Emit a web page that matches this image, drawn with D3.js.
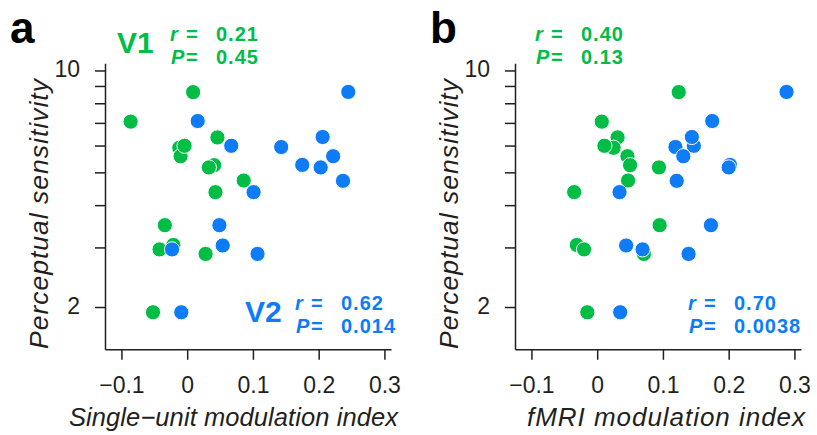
<!DOCTYPE html>
<html>
<head>
<meta charset="utf-8">
<script src="https://cdn.jsdelivr.net/npm/d3@7"></script>
<style>
  body { margin: 0; background: #fff; }
  svg { display: block; }
  text { font-family: "Liberation Sans", Arial, Helvetica, sans-serif; }
</style>
</head>
<body>
<svg id="chart" width="817" height="435"></svg>
<script>
// Perceptual sensitivity per session, with single-unit and fMRI modulation indices
const sensitivityV1 = [8.63, 7.06, 6.34, 5.91, 5.58, 5.99, 5.25, 5.17, 4.73, 4.37, 3.49, 3.05, 2.96, 2.87, 1.93];
const singleUnitV1  = [0.009, -0.086, 0.046, -0.012, -0.010, -0.004, 0.041, 0.033, 0.086, 0.043, -0.034, -0.021, -0.042, 0.028, -0.052];
const fmriV1        = [0.124, 0.007, 0.031, 0.025, 0.046, 0.011, 0.050, 0.094, 0.047, -0.035, 0.095, -0.031, -0.020, 0.071, -0.015];

const sensitivityV2 = [8.64, 7.09, 5.99, 6.36, 5.94, 5.58, 5.26, 5.17, 4.72, 4.37, 3.49, 3.04, 2.96, 2.87, 1.93];
const singleUnitV2  = [0.245, 0.016, 0.067, 0.206, 0.143, 0.222, 0.175, 0.203, 0.237, 0.101, 0.049, 0.054, -0.023, 0.107, -0.009];
const fmriV2        = [0.288, 0.175, 0.147, 0.144, 0.119, 0.131, 0.202, 0.200, 0.121, 0.034, 0.173, 0.044, 0.069, 0.139, 0.035];

const xTicks = [-0.1, 0, 0.1, 0.2, 0.3];
const xTickLabels = ["\u22120.1", "0", "0.1", "0.2", "0.3"];
const yTicks = [2, 3, 4, 5, 6, 7, 8, 9, 10];
const yTickLabels = ["2", "", "", "", "", "", "", "", "10"];

const panelLetters = ["a", "b"];
const xTitles = ["Single\u2212unit modulation index", "fMRI modulation index"];
const yTitle = "Perceptual sensitivity";
const areaNames = ["V1", "V2"];
const rValues = [["0.21", "0.62"], ["0.40", "0.70"]];
const pValues = [["0.45", "0.014"], ["0.13", "0.0038"]];

const GREEN = "#00bd46";
const BLUE = "#0d7cf6";
const INK = "#231f20";

const svg = d3.select("#chart");

const plotTop = 63.3, plotBottom = 349.3, plotW = 286;
const lefts = [105, 515];

const y = d3.scaleLog().domain([1.5, 10.5]).range([plotBottom, plotTop]);

const panelData = [
  { v1x: singleUnitV1, v2x: singleUnitV2, showArea: true, titleX: 69, titleSize: 25.5, titleLen: 329 },
  { v1x: fmriV1, v2x: fmriV2, showArea: false, titleX: 527, titleSize: 26, titleLen: 278 }
];

panelData.forEach((pd, i) => {
  const left = lefts[i];
  const g = svg.append("g").attr("transform", `translate(${left},0)`);
  const x = d3.scaleLinear().domain([-0.125, 0.31]).range([0, plotW]);

  // y axis (log)
  const yAxis = d3.axisLeft(y).tickValues(yTicks).tickSizeInner(10).tickSizeOuter(0)
    .tickFormat((d, k) => yTickLabels[k]);
  const ya = g.append("g").call(yAxis);
  ya.select(".domain").attr("stroke", INK).attr("stroke-width", 1.5);
  ya.selectAll(".tick line").attr("stroke", INK).attr("stroke-width", 1.5);
  ya.selectAll(".tick text").attr("x", -25).attr("dy", "0.26em")
    .attr("fill", INK).attr("font-size", 23).attr("font-family", null);

  // x axis
  const xAxis = d3.axisBottom(x).tickValues(xTicks).tickSizeInner(10.5).tickSizeOuter(0)
    .tickFormat((d, k) => xTickLabels[k]);
  const xa = g.append("g").attr("transform", `translate(0,${plotBottom})`).call(xAxis);
  xa.select(".domain").attr("stroke", INK).attr("stroke-width", 1.5);
  xa.selectAll(".tick line").attr("stroke", INK).attr("stroke-width", 1.5);
  xa.selectAll(".tick text").attr("y", 44).attr("dy", 0)
    .attr("fill", INK).attr("font-size", 23).attr("font-family", null);

  // axis titles
  svg.append("text")
    .attr("transform", `translate(${left - 57},349) rotate(-90)`)
    .attr("font-size", 26.5).attr("font-style", "italic").attr("fill", INK)
    .attr("textLength", 270)
    .text(yTitle);

  svg.append("text")
    .attr("x", pd.titleX).attr("y", 426)
    .attr("font-size", pd.titleSize).attr("font-style", "italic").attr("fill", INK)
    .attr("textLength", pd.titleLen)
    .text(xTitles[i]);

  // panel letter
  svg.append("text")
    .attr("x", i === 0 ? 10 : 430).attr("y", 43)
    .attr("font-size", 44).attr("font-weight", "bold").attr("fill", "#000")
    .text(panelLetters[i]);

  // points: V1 then V2 on top
  g.append("g").selectAll("circle")
    .data(sensitivityV1.map((s, k) => [pd.v1x[k], s]))
    .join("circle")
    .attr("cx", d => x(d[0])).attr("cy", d => y(d[1])).attr("r", 7.6)
    .attr("fill", GREEN).attr("stroke", "#fff").attr("stroke-width", 1);

  g.append("g").selectAll("circle")
    .data(sensitivityV2.map((s, k) => [pd.v2x[k], s]))
    .join("circle")
    .attr("cx", d => x(d[0])).attr("cy", d => y(d[1])).attr("r", 7.6)
    .attr("fill", BLUE).attr("stroke", "#fff").attr("stroke-width", 1);

  // statistics blocks
  const blocks = [
    { color: GREEN, area: areaNames[0], areaX: 117, x0: 170 - left + (i === 0 ? 0 : 365), b1: 41, b2: 64, r: rValues[i][0], p: pValues[i][0] },
    { color: BLUE, area: areaNames[1], areaX: 245, x0: 295 - left + (i === 0 ? 0 : 393), b1: 310, b2: 333, r: rValues[i][1], p: pValues[i][1] }
  ];
  blocks.forEach(b => {
    const sg = g.append("g").attr("fill", b.color).attr("font-weight", "bold")
      .attr("font-size", 20).attr("letter-spacing", 1);
    if (pd.showArea) {
      sg.append("text").attr("x", b.areaX - left).attr("y", (b.b1 + b.b2) / 2 + 0.5)
        .attr("font-size", 30).attr("letter-spacing", 0).text(b.area);
    }
    sg.append("text").attr("x", b.x0).attr("y", b.b1).attr("font-style", "italic").text("r");
    sg.append("text").attr("x", b.x0 + 1).attr("y", b.b2).attr("font-style", "italic").text("P");
    sg.append("text").attr("x", b.x0 + 16).attr("y", b.b1).text("=");
    sg.append("text").attr("x", b.x0 + 16).attr("y", b.b2).text("=");
    sg.append("text").attr("x", b.x0 + 46).attr("y", b.b1).text(b.r);
    sg.append("text").attr("x", b.x0 + 46).attr("y", b.b2).text(b.p);
  });
});
</script>
</body>
</html>
